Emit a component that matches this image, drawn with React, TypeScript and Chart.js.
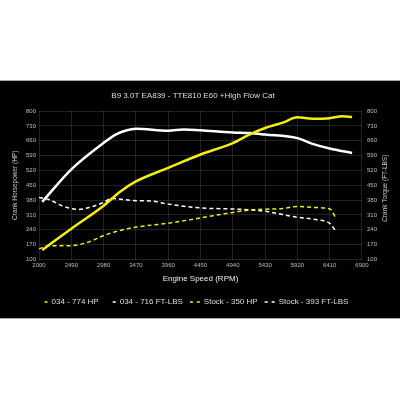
import React, { useEffect, useRef } from "react";
import { Chart, registerables } from "chart.js";

Chart.register(...registerables);

const chartTitle = "B9 3.0T EA839 - TTE810 E60 +High Flow Cat";
const xTitle = "Engine Speed (RPM)";
const yLeftTitle = "Crank Horsepower (HP)";
const yRightTitle = "Crank Torque (FT-LBS)";

const xTicks = [2000, 2490, 2980, 3470, 3960, 4450, 4940, 5430, 5920, 6410, 6900];
const yTicks = [100, 170, 240, 310, 380, 450, 520, 590, 660, 730, 800];

const seriesNames = ["034 - 774 HP", "034 - 716 FT-LBS", "Stock - 350 HP", "Stock - 393 FT-LBS"];

const tunedHpRpm = [2050, 2490, 2980, 3210, 3470, 3960, 4450, 4940, 5200, 5430, 5700, 5920, 6150, 6410, 6600, 6750];
const tunedHp = [145, 245, 353, 415, 468, 532, 595, 649, 690, 720, 745, 770, 763, 766, 775, 772];

const tunedTqRpm = [2050, 2490, 2980, 3170, 3320, 3470, 3960, 4200, 4450, 4940, 5200, 5430, 5920, 6150, 6410, 6750];
const tunedTq = [372, 525, 650, 690, 708, 716, 707, 713, 709, 699, 696, 689, 672, 645, 623, 602];

const stockHpRpm = [2000, 2150, 2480, 2760, 2980, 3170, 3480, 3960, 4450, 4940, 5200, 5430, 5700, 5920, 6200, 6420, 6510];
const stockHp = [150, 165, 165, 183, 213, 232, 253, 271, 296, 322, 333, 337, 340, 350, 345, 337, 290];

const stockTqRpm = [2000, 2150, 2350, 2600, 2770, 2980, 3100, 3480, 3680, 3960, 4450, 4940, 5200, 5430, 5920, 6220, 6420, 6510];
const stockTq = [392, 383, 353, 336, 346, 369, 387, 377, 376, 361, 343, 338, 334, 327, 299, 287, 268, 229];

const yellow = "#f2ee10";
const white = "#ffffff";

const FONT = "'Liberation Sans', Arial, sans-serif";

function toPts(xs: number[], ys: number[]) {
  return xs.map((x, i) => ({ x, y: ys[i] }));
}

const rightTitlePlugin = {
  id: "rightTitle",
  afterDraw(chart: any) {
    const { ctx, chartArea } = chart;
    ctx.save();
    ctx.fillStyle = "#cccccc";
    ctx.font = `6.5px ${FONT}`;
    ctx.textAlign = "center";
    ctx.textBaseline = "middle";
    ctx.translate(385, (chartArea.top + chartArea.bottom) / 2 + 3);
    ctx.rotate(-Math.PI / 2);
    ctx.fillText(yRightTitle, 0, 0);
    ctx.restore();
  },
};

export default function App() {
  const ref = useRef<HTMLCanvasElement | null>(null);

  useEffect(() => {
    if (!ref.current) return;
    const chart = new Chart(ref.current, {
      type: "line",
      data: {
        datasets: [
          {
            label: seriesNames[0],
            data: toPts(tunedHpRpm, tunedHp),
            borderColor: yellow,
            backgroundColor: yellow,
            borderWidth: 2.5,
            pointRadius: 0,
            pointStyle: "line",
            cubicInterpolationMode: "monotone",
            yAxisID: "y",
          },
          {
            label: seriesNames[1],
            data: toPts(tunedTqRpm, tunedTq),
            borderColor: white,
            backgroundColor: white,
            borderWidth: 2.5,
            pointRadius: 0,
            pointStyle: "line",
            cubicInterpolationMode: "monotone",
            yAxisID: "y1",
          },
          {
            label: seriesNames[2],
            data: toPts(stockHpRpm, stockHp),
            borderColor: yellow,
            backgroundColor: yellow,
            borderWidth: 1.5,
            borderDash: [4, 3],
            pointRadius: 0,
            pointStyle: "line",
            cubicInterpolationMode: "monotone",
            yAxisID: "y",
          },
          {
            label: seriesNames[3],
            data: toPts(stockTqRpm, stockTq),
            borderColor: white,
            backgroundColor: white,
            borderWidth: 1.5,
            borderDash: [4, 3],
            pointRadius: 0,
            pointStyle: "line",
            cubicInterpolationMode: "monotone",
            yAxisID: "y1",
          },
        ],
      },
      options: {
        responsive: false,
        animation: false,
        devicePixelRatio: 1,
        layout: { padding: { left: 4, right: 18, top: 0, bottom: 2 } },
        plugins: {
          title: {
            display: true,
            text: chartTitle,
            color: "#dddddd",
            font: { family: FONT, size: 8, weight: "normal" },
            padding: { top: 10.2, bottom: 10.2 },
          },
          legend: {
            display: true,
            position: "bottom",
            labels: {
              color: "#dddddd",
              font: { family: FONT, size: 8 },
              usePointStyle: true,
              pointStyleWidth: 10,
              padding: 7,
              generateLabels(chart: any) {
                const items = Chart.defaults.plugins.legend.labels.generateLabels(chart);
                items.forEach((it: any, i: number) => {
                  it.lineDash = i < 2 ? [0, 7, 3, 20] : [3, 4];
                  it.lineWidth = 1.5;
                });
                return items;
              },
            },
          },
          tooltip: { enabled: false },
        },
        scales: {
          x: {
            type: "linear",
            min: xTicks[0],
            max: xTicks[xTicks.length - 1],
            afterBuildTicks(scale: any) {
              scale.ticks = xTicks.map((v) => ({ value: v }));
            },
            grid: { color: "rgba(255,255,255,0.13)", drawTicks: false },
            border: { display: false },
            ticks: {
              color: "#bbbbbb",
              font: { family: FONT, size: 6 },
              padding: 2.5,
              maxRotation: 0,
              autoSkip: false,
              callback: (v: any) => String(v),
            },
            title: {
              display: true,
              text: xTitle,
              color: "#eeeeee",
              font: { family: FONT, size: 8 },
              padding: { top: 2.5, bottom: 7.2 },
            },
          },
          y: {
            type: "linear",
            position: "left",
            min: yTicks[0],
            max: yTicks[yTicks.length - 1],
            afterBuildTicks(scale: any) {
              scale.ticks = yTicks.map((v) => ({ value: v }));
            },
            grid: { color: "rgba(255,255,255,0.13)", drawTicks: false },
            border: { display: false },
            ticks: {
              color: "#bbbbbb",
              font: { family: FONT, size: 6 },
              padding: 3,
              autoSkip: false,
            },
            title: {
              display: true,
              text: yLeftTitle,
              color: "#cccccc",
              font: { family: FONT, size: 6.5 },
              padding: { top: 7.1, bottom: 4.1 },
            },
          },
          y1: {
            type: "linear",
            position: "right",
            min: yTicks[0],
            max: yTicks[yTicks.length - 1],
            afterBuildTicks(scale: any) {
              scale.ticks = yTicks.map((v) => ({ value: v }));
            },
            grid: { display: false, drawTicks: false },
            border: { display: false },
            ticks: {
              color: "#bbbbbb",
              font: { family: FONT, size: 6 },
              padding: 5,
              autoSkip: false,
            },
          },
        },
      },
      plugins: [rightTitlePlugin],
    });
    return () => chart.destroy();
  }, []);

  return (
    <div style={{ position: "relative", width: 400, height: 400, background: "#ffffff" }}>
      <style>{"body{margin:0;}"}</style>
      <div
        style={{
          position: "absolute",
          left: 0,
          top: 80,
          width: 400,
          height: 239,
          boxSizing: "border-box",
          background: "#000000",
          borderTop: "1px solid #aaaaaa",
          borderBottom: "1px solid #aaaaaa",
        }}
      >
        <canvas ref={ref} width={400} height={237} style={{ display: "block", width: 400, height: 237 }} />
      </div>
    </div>
  );
}
